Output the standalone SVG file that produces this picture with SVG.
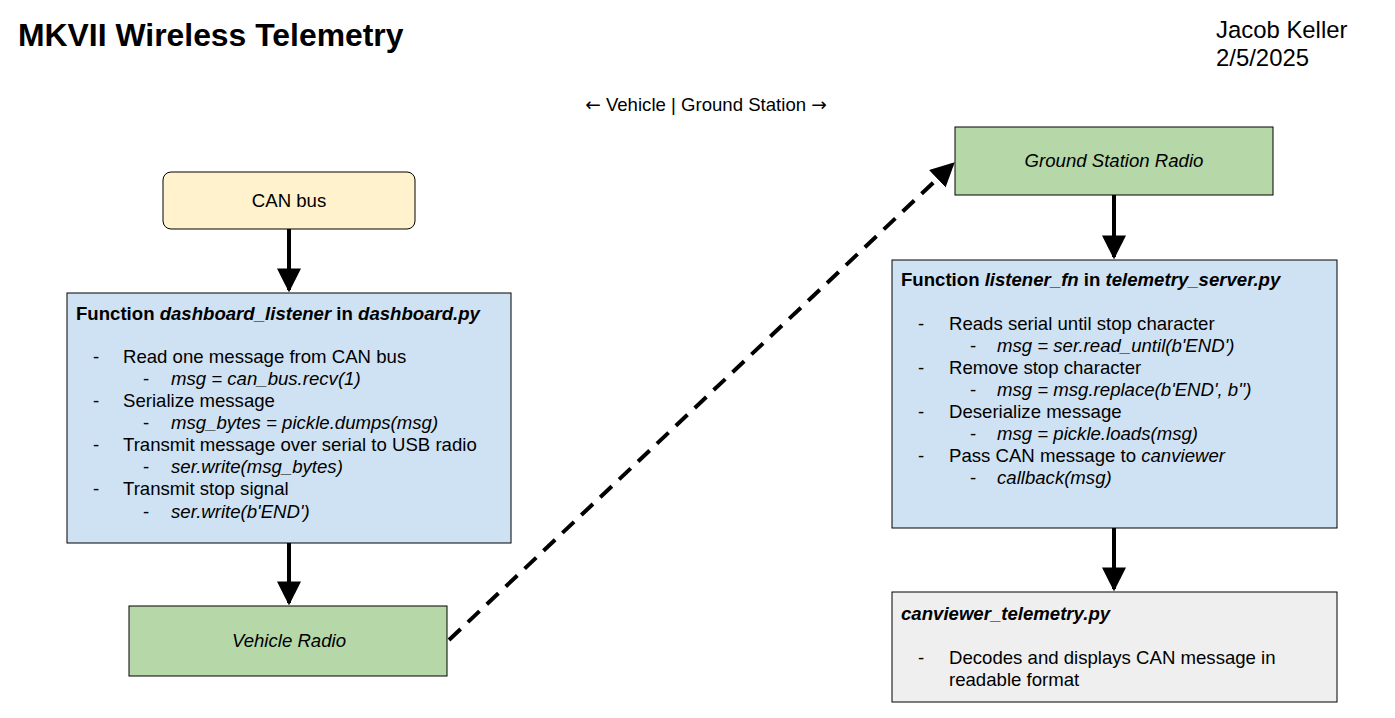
<svg xmlns="http://www.w3.org/2000/svg" width="1395" height="718" viewBox="0 0 1395 718">
<defs>
<style>
text{font-family:"Liberation Sans",Arial,sans-serif;fill:#000}
.t{font-size:18.6px}
.b{font-weight:bold}
.i{font-style:italic}
.ar{font-family:"DejaVu Sans",sans-serif}
.box{stroke:#000;stroke-width:1}
.conn{stroke:#000;stroke-width:4;fill:none}
</style>
<marker id="ah" viewBox="0 0 10 10" refX="9" refY="5" markerWidth="6" markerHeight="6" markerUnits="strokeWidth" orient="auto">
<path d="M0,0 L10,5 L0,10 z" fill="#000"/>
</marker>
</defs>
<rect width="1395" height="718" fill="#fff"/>
<text x="18" y="46" font-size="31.9" class="b">MKVII Wireless Telemetry</text>
<text x="1216" y="38" font-size="23.9">Jacob Keller</text>
<text x="1216" y="66" font-size="23.9">2/5/2025</text>
<text x="706" y="111" font-size="18.6" text-anchor="middle"><tspan class="ar">←</tspan> Vehicle | Ground Station <tspan class="ar">→</tspan></text>

<g id="connectors">
<line class="conn" x1="289" y1="229" x2="289" y2="290" marker-end="url(#ah)"/>
<line class="conn" x1="289" y1="543" x2="289" y2="603" marker-end="url(#ah)"/>
<line class="conn" x1="449" y1="640" x2="953" y2="164" stroke-dasharray="16,10" marker-end="url(#ah)"/>
<line class="conn" x1="1114" y1="195" x2="1114" y2="257" marker-end="url(#ah)"/>
<line class="conn" x1="1114" y1="528" x2="1114" y2="589" marker-end="url(#ah)"/>
</g>

<g id="can-bus">
<rect class="box" x="163" y="172" width="252" height="57" rx="8" fill="#fff2cc"/>
<text x="289" y="207" class="t" text-anchor="middle">CAN bus</text>
</g>

<g id="dashboard-listener">
<rect class="box" x="67" y="293" width="444" height="250" fill="#cfe2f3"/>
<text x="76" y="320" class="t b">Function <tspan class="i">dashboard_listener</tspan> in <tspan class="i">dashboard.py</tspan></text>
<g class="t">
<text x="93" y="363">-</text><text x="123" y="363">Read one message from CAN bus</text>
<text x="143" y="385">-</text><text x="171" y="385" class="i">msg = can_bus.recv(1)</text>
<text x="93" y="407">-</text><text x="123" y="407">Serialize message</text>
<text x="143" y="429">-</text><text x="171" y="429" class="i">msg_bytes = pickle.dumps(msg)</text>
<text x="93" y="451">-</text><text x="123" y="451">Transmit message over serial to USB radio</text>
<text x="143" y="473">-</text><text x="171" y="473" class="i">ser.write(msg_bytes)</text>
<text x="93" y="495">-</text><text x="123" y="495">Transmit stop signal</text>
<text x="143" y="518">-</text><text x="171" y="518" class="i">ser.write(b'END')</text>
</g>
</g>

<g id="vehicle-radio">
<rect class="box" x="129" y="606" width="318" height="70" fill="#b6d7a8"/>
<text x="289" y="647" class="t i" text-anchor="middle">Vehicle Radio</text>
</g>

<g id="ground-station-radio">
<rect class="box" x="955" y="127" width="318" height="68" fill="#b6d7a8"/>
<text x="1114" y="167" class="t i" text-anchor="middle">Ground Station Radio</text>
</g>

<g id="listener-fn">
<rect class="box" x="892" y="260" width="445" height="268" fill="#cfe2f3"/>
<text x="901" y="286" class="t b">Function <tspan class="i">listener_fn</tspan> in <tspan class="i">telemetry_server.py</tspan></text>
<g class="t">
<text x="918" y="330">-</text><text x="949" y="330">Reads serial until stop character</text>
<text x="970" y="352">-</text><text x="997" y="352" class="i">msg = ser.read_until(b'END')</text>
<text x="918" y="374">-</text><text x="949" y="374">Remove stop character</text>
<text x="970" y="396">-</text><text x="997" y="396" class="i">msg = msg.replace(b'END', b'')</text>
<text x="918" y="418">-</text><text x="949" y="418">Deserialize message</text>
<text x="970" y="440">-</text><text x="997" y="440" class="i">msg = pickle.loads(msg)</text>
<text x="918" y="462">-</text><text x="949" y="462">Pass CAN message to <tspan class="i">canviewer</tspan></text>
<text x="970" y="484">-</text><text x="997" y="484" class="i">callback(msg)</text>
</g>
</g>

<g id="canviewer">
<rect class="box" x="892" y="592" width="445" height="110" fill="#efefef"/>
<text x="901" y="620" class="t b i">canviewer_telemetry.py</text>
<text x="918" y="664" class="t">-</text>
<text x="949" y="664" class="t">Decodes and displays CAN message in</text>
<text x="949" y="686" class="t">readable format</text>
</g>
</svg>
